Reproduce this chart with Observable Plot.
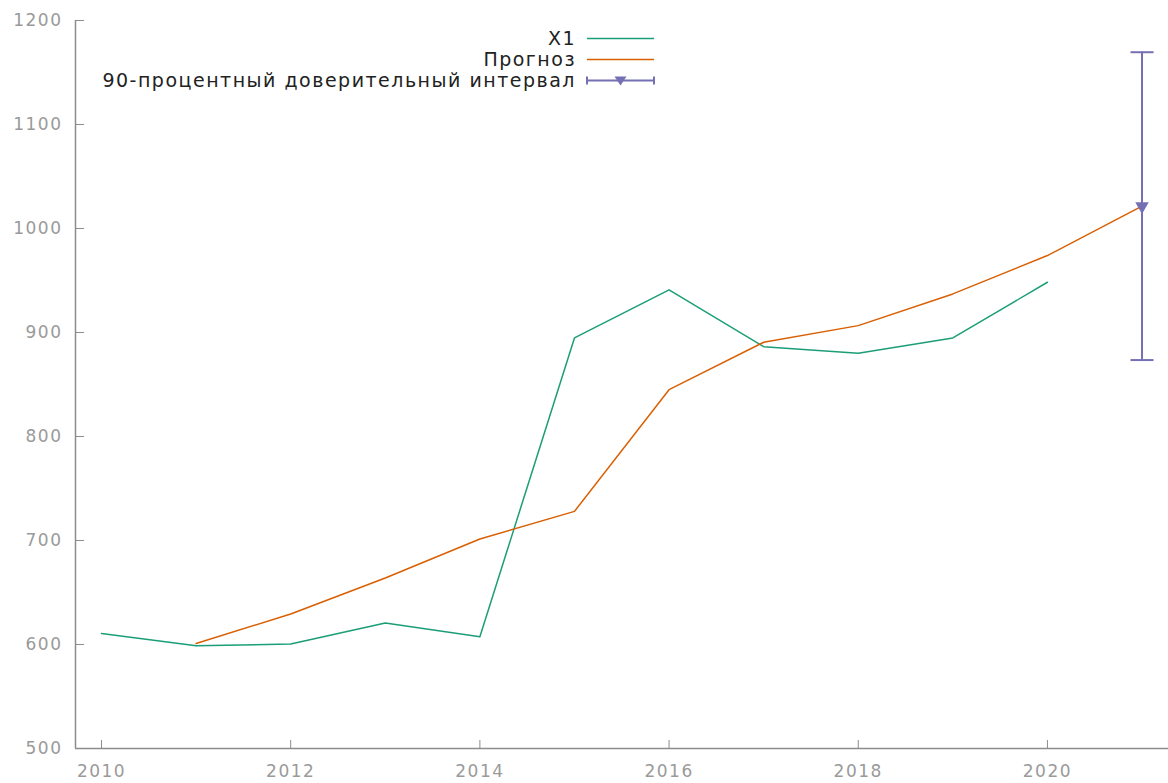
<!DOCTYPE html>
<html>
<head>
<meta charset="utf-8">
<script src="https://cdn.jsdelivr.net/npm/d3@7"></script>
<script src="https://cdn.jsdelivr.net/npm/@observablehq/plot@0.6"></script>
<style>
  html, body { margin: 0; padding: 0; background: #fff; }
  #chart svg { display: block; }
</style>
</head>
<body>
<div id="chart"></div>
<script>
// ---- data ----
const years = [2010, 2011, 2012, 2013, 2014, 2015, 2016, 2017, 2018, 2019, 2020];
const x1Values = [610.6, 598.8, 600.4, 620.6, 607.5, 894.8, 941, 886.4, 880, 894.8, 948.3];
const forecastYears = [2011, 2012, 2013, 2014, 2015, 2016, 2017, 2018, 2019, 2020, 2021];
const forecastValues = [601, 629.3, 663.9, 701.4, 728, 845, 890.6, 906.6, 937.1, 974, 1021.5];
const ciYears = [2021];
const ciMid = [1021.5];
const ciLow = [873.5];
const ciHigh = [1169.5];
const xTicks = [2010, 2012, 2014, 2016, 2018, 2020];
const yTicks = [500, 600, 700, 800, 900, 1000, 1100, 1200];
const xDomain = [2009.725, 2021.28];
const yDomain = [500, 1200];
const legendLabels = ["X1", "Прогноз", "90-процентный доверительный интервал"];

const colX1 = "#1b9e77", colF = "#d95f02", colCI = "#7570b3";
const axisCol = "#8c8c8c", labelCol = "#9a9a9a";

const x1Data = years.map((y, i) => ({year: y, value: x1Values[i]}));
const fData = forecastYears.map((y, i) => ({year: y, value: forecastValues[i]}));
const ciData = ciYears.map((y, i) => ({year: y, mid: ciMid[i], low: ciLow[i], high: ciHigh[i]}));

const capSymbol = { draw(ctx, size) { const r = Math.sqrt(size); ctx.moveTo(-r, 0); ctx.lineTo(r, 0); } };

const chart = Plot.plot({
  width: 1168, height: 783,
  marginLeft: 75, marginRight: 0, marginTop: 20, marginBottom: 35,
  style: {fontFamily: "'DejaVu Sans', Verdana, sans-serif", background: "#fff"},
  x: {domain: xDomain},
  y: {domain: yDomain},
  marks: [
    Plot.ruleX([xDomain[0]], {stroke: axisCol, strokeWidth: 1.5}),
    Plot.ruleY([yDomain[0]], {stroke: axisCol, strokeWidth: 1.5}),
    Plot.axisX(xTicks, {tickSize: -8, tickPadding: 24, tickFormat: d => String(d), stroke: axisCol, fill: labelCol, fontSize: 17, label: null}),
    Plot.axisY(yTicks, {tickSize: -9, tickPadding: 22, tickFormat: d => String(d), stroke: axisCol, fill: labelCol, fontSize: 17, label: null}),
    Plot.line(x1Data, {x: "year", y: "value", stroke: colX1, strokeWidth: 1.5}),
    Plot.line(fData, {x: "year", y: "value", stroke: colF, strokeWidth: 1.5}),
    Plot.ruleX(ciData, {x: "year", y1: "low", y2: "high", stroke: colCI, strokeWidth: 2}),
    Plot.dot(ciData, {x: "year", y: "low", symbol: capSymbol, r: 6.5, stroke: colCI, strokeWidth: 2, fill: "none"}),
    Plot.dot(ciData, {x: "year", y: "high", symbol: capSymbol, r: 6.5, stroke: colCI, strokeWidth: 2, fill: "none"}),
    Plot.dot(ciData, {x: "year", y: "mid", symbol: "triangle", rotate: 180, r: 5, fill: colCI, stroke: "none"})
  ]
});
document.getElementById("chart").appendChild(chart);

// letter-spacing for axis tick labels to mimic the wide font
d3.select(chart).selectAll("g[aria-label='x-axis tick label'] text, g[aria-label='y-axis tick label'] text")
  .style("letter-spacing", "1.5px");

// ---- legend ----
const svg = d3.select(chart);
const lg = svg.append("g").attr("font-family", "'DejaVu Sans', Verdana, sans-serif").attr("font-size", 19);
const rowsY = [38.5, 59.5, 80.5];
const textRight = 576, sx1 = 587, sx2 = 654;
const cols = [colX1, colF, colCI];
legendLabels.forEach((lab, i) => {
  const yy = rowsY[i];
  lg.append("text").attr("x", textRight).attr("y", yy).attr("dy", "0.35em")
    .attr("text-anchor", "end").attr("fill", "#222").style("letter-spacing", "1.5px").text(lab);
  lg.append("line").attr("x1", sx1).attr("x2", sx2).attr("y1", yy).attr("y2", yy)
    .attr("stroke", cols[i]).attr("stroke-width", i === 2 ? 2 : 1.5);
  if (i === 2) {
    lg.append("line").attr("x1", sx1).attr("x2", sx1).attr("y1", yy - 4).attr("y2", yy + 4).attr("stroke", colCI).attr("stroke-width", 2);
    lg.append("line").attr("x1", sx2).attr("x2", sx2).attr("y1", yy - 4).attr("y2", yy + 4).attr("stroke", colCI).attr("stroke-width", 2);
    const cx = (sx1 + sx2) / 2;
    lg.append("path").attr("d", `M${cx - 6},${yy - 4}L${cx + 6},${yy - 4}L${cx},${yy + 5}Z`).attr("fill", colCI);
  }
});
</script>
</body>
</html>
